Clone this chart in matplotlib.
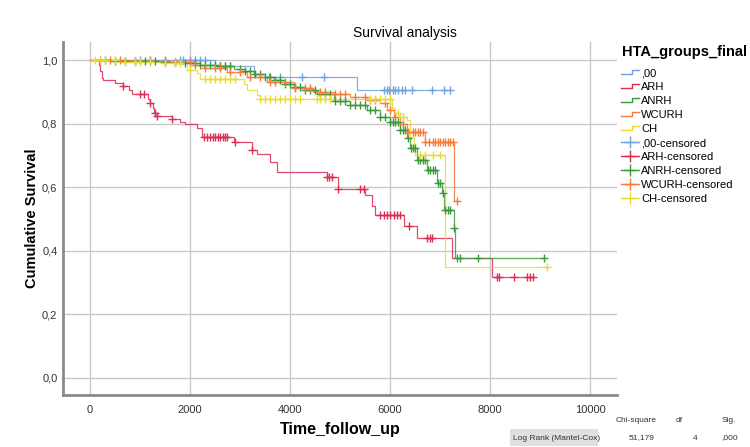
"""Kaplan-Meier style survival plot (SPSS look) for HTA groups."""

import numpy as np
import matplotlib
matplotlib.use("Agg")
import matplotlib.pyplot as plt
from matplotlib.lines import Line2D
from matplotlib.legend_handler import HandlerBase

plt.rcParams["font.family"] = ["Liberation Sans", "DejaVu Sans"]

# ---- data ------------------------------------------------------------------
groups = [",00", "ARH", "ANRH", "WCURH", "CH"]
colors = ["#6fa3e0", "#dc2d55", "#3a9a3a", "#f47c3c", "#e9dc30"]

blue_t = [0, 2500, 3270, 5330]
blue_s = [1.0, 0.981, 0.946, 0.906]
blue_end = 7200
blue_cens = [1000, 1200, 1500, 1800, 1850, 2000, 2100, 2200, 2300, 2600, 2700,
             2800, 3570, 3800, 4230, 4670, 5870, 5930, 5980, 6050, 6100, 6150,
             6230, 6300, 6430, 6830, 7070, 7200]

arh_t = [0, 180, 200, 230, 250, 500, 660, 780, 830, 1160, 1200, 1250, 1270,
         1330, 1630, 1800, 1900, 2130, 2230, 2870, 3230, 3330, 3600, 3730,
         4730, 4960, 5500, 5630, 5700, 6270, 6530, 7230, 8030]
arh_s = [1.0, 0.985, 0.965, 0.945, 0.937, 0.928, 0.918, 0.905, 0.895, 0.878,
         0.866, 0.85, 0.835, 0.824, 0.814, 0.806, 0.799, 0.785, 0.759, 0.743,
         0.717, 0.705, 0.68, 0.649, 0.631, 0.596, 0.575, 0.54, 0.513, 0.478,
         0.439, 0.376, 0.317]
arh_end = 8850
arh_cens = [660, 1000, 1070, 1200, 1290, 1330, 1630, 2270, 2330, 2400, 2450,
            2500, 2550, 2600, 2650, 2700, 2730, 2900, 3230, 4730, 4780, 4830,
            4960, 5400, 5480, 5800, 5870, 5930, 6000, 6070, 6130, 6200, 6370,
            6730, 6800, 6830, 8130, 8170, 8470, 8730, 8800, 8850]

anrh_t = [0, 400, 1000, 1400, 1730, 2200, 2600, 2870, 3100, 3270, 3500, 3670,
          3900, 4070, 4300, 4530, 4870, 5200, 5530, 5800, 6000, 6200, 6330,
          6400, 6530, 6730, 6930, 7030, 7070, 7270, 7300]
anrh_s = [1.0, 0.998, 0.996, 0.993, 0.99, 0.986, 0.98, 0.973, 0.965, 0.957,
          0.947, 0.937, 0.926, 0.916, 0.906, 0.895, 0.872, 0.858, 0.843, 0.822,
          0.806, 0.78, 0.754, 0.725, 0.686, 0.654, 0.612, 0.581, 0.528, 0.471,
          0.376]
anrh_end = 9080
anrh_cens = [300, 500, 700, 900, 1100, 1300, 1500, 1700, 1900, 2100, 2200,
             2300, 2400, 2500, 2600, 2700, 2800, 3000, 3100, 3200, 3300, 3400,
             3500, 3600, 3700, 3800, 3900, 4000, 4100, 4200, 4300, 4400, 4500,
             4600, 4700, 4800, 4900, 5000, 5100, 5200, 5300, 5400, 5500, 5600,
             5700, 5800, 5900, 6000, 6050, 6100, 6150, 6200, 6250, 6300, 6350,
             6420, 6450, 6500, 6560, 6600, 6650, 6700, 6750, 6800, 6850, 6900,
             6950, 7000, 7050, 7100, 7150, 7200, 7280, 7330, 7400, 7750, 9080]

wcurh_t = [0, 800, 1600, 2070, 2270, 2730, 3130, 3530, 4070, 4460, 4870, 5200,
           5530, 5800, 5930, 6070, 6200, 6330, 6700, 7280]
wcurh_s = [1.0, 0.998, 0.993, 0.984, 0.974, 0.964, 0.947, 0.932, 0.911, 0.9,
           0.895, 0.885, 0.874, 0.864, 0.843, 0.822, 0.8, 0.775, 0.743, 0.557]
wcurh_end = 7330
wcurh_cens = [200, 400, 600, 900, 1200, 1500, 1700, 2000, 2100, 2300, 2500,
              2600, 2800, 3000, 3200, 3400, 3600, 3700, 3900, 4100, 4300, 4400,
              4600, 4700, 4900, 5000, 5100, 5300, 5500, 5600, 5700, 5900, 6000,
              6100, 6250, 6350, 6450, 6500, 6550, 6600, 6650, 6700, 6780, 6850,
              6900, 6950, 7000, 7050, 7100, 7150, 7200, 7250, 7330]

ch_t = [0, 600, 1400, 1930, 2130, 2200, 3070, 3130, 3330, 3400, 6030, 6100,
        6200, 6330, 6400, 6480, 6500, 7100]
ch_s = [1.0, 0.995, 0.99, 0.969, 0.958, 0.942, 0.926, 0.906, 0.89, 0.879,
        0.848, 0.835, 0.822, 0.811, 0.759, 0.72, 0.701, 0.35]
ch_end = 9130
ch_cens = [100, 200, 300, 500, 700, 900, 1000, 1200, 1500, 1700, 1800, 2000,
           2300, 2400, 2500, 2600, 2700, 2800, 2900, 3400, 3500, 3600, 3700,
           3800, 3900, 4000, 4100, 4200, 4530, 4600, 4700, 4800, 5600, 5700,
           5800, 5900, 6000, 6150, 6250, 6600, 6700, 6850, 7000, 9130]

curves = [
    (blue_t, blue_s, blue_end, blue_cens),
    (arh_t, arh_s, arh_end, arh_cens),
    (anrh_t, anrh_s, anrh_end, anrh_cens),
    (wcurh_t, wcurh_s, wcurh_end, wcurh_cens),
    (ch_t, ch_s, ch_end, ch_cens),
]

x_ticks = [0, 2000, 4000, 6000, 8000, 10000]
y_ticks = [0.0, 0.2, 0.4, 0.6, 0.8, 1.0]

test_cols = ["Chi-square", "df", "Sig."]
test_name = "Log Rank (Mantel-Cox)"
test_vals = ["51,179", "4", ",000"]

NARROW = ["Liberation Sans Narrow", "Liberation Sans", "DejaVu Sans"]


class HandlerStep(HandlerBase):
    def create_artists(self, legend, orig, x0, y0, w, h, fontsize, trans):
        xs = [x0, x0 + w * 0.6, x0 + w * 0.6, x0 + w]
        ys = [y0 + h * 0.2, y0 + h * 0.2, y0 + h * 0.75, y0 + h * 0.75]
        ln = Line2D(xs, ys, color=orig.get_color(), lw=1.0, transform=trans)
        return [ln]


def step_value(t, s, x):
    i = np.searchsorted(t, x, side="right") - 1
    return np.asarray(s)[i]


def main():
    fig = plt.figure(figsize=(7.5, 4.47), dpi=100)
    ax = fig.add_axes([0.084, 0.116, 0.739, 0.79])

    for (t, s, end, cens), col in zip(curves, colors):
        tt = list(t) + [end]
        ss = list(s) + [s[-1]]
        ax.step(tt, ss, where="post", color=col, lw=0.9, alpha=0.85, zorder=3)
        cy = step_value(t, s, cens)
        ax.plot(cens, cy, ls="none", marker="+", ms=5.5, mew=1.0,
                color=col, zorder=4)

    ax.set_xlim(-540, 10540)
    ax.set_ylim(-0.054, 1.057)
    ax.set_xticks(x_ticks)
    ax.set_yticks(y_ticks)
    ax.set_xticklabels([str(v) for v in x_ticks])
    ax.set_yticklabels([f"{v:.1f}".replace(".", ",") for v in y_ticks])
    ax.tick_params(length=0, labelsize=8, colors="#333333")
    ax.tick_params(axis="x", pad=7)
    ax.tick_params(axis="y", pad=4)
    ax.grid(True, color="#c8c8c8", lw=1.0)
    ax.set_axisbelow(True)
    for side in ["top", "right"]:
        ax.spines[side].set_visible(False)
    for side in ["left", "bottom"]:
        ax.spines[side].set_color("#8a8a8a")
        ax.spines[side].set_linewidth(2)

    ax.set_xlabel("Time_follow_up", fontsize=11.5, fontweight="bold", labelpad=5)
    ax.set_ylabel("Cumulative Survival", fontsize=10.5, fontweight="bold",
                  labelpad=2)
    fig.text(405 / 750, 1 - 33 / 447, "Survival analysis", ha="center",
             va="center", fontsize=10)

    # legend: step icons for lines, plus marks for censored
    fig.text(622 / 750, 1 - 52 / 447, "HTA_groups_final", ha="left",
             va="center", fontsize=10.5, fontweight="bold")
    handles, labels = [], []
    for g, col in zip(groups, colors):
        handles.append(Line2D([], [], color=col))
        labels.append(g)
    for g, col in zip(groups, colors):
        handles.append(Line2D([], [], color=col, lw=1.0, marker="+",
                              ms=9, mew=1.0))
        labels.append(g + "-censored")
    hmap = {h: HandlerStep() for h in handles[:5]}
    fig.legend(handles, labels, handler_map=hmap, loc="upper left",
               bbox_to_anchor=(621 / 750, 1 - 68 / 447), frameon=False,
               fontsize=8, handlelength=1.6, handletextpad=0.2,
               labelspacing=0.36, borderaxespad=0, borderpad=0)

    # log rank table
    for lab, xc in zip(test_cols, [636, 679, 729]):
        fig.text(xc / 750, 1 - 421 / 447, lab, fontsize=6, family=NARROW,
                 ha="center", va="center", color="#333333")
    fig.patches.append(plt.Rectangle((510 / 750, 1 - 446 / 447), 88 / 750,
                                     17 / 447, transform=fig.transFigure,
                                     facecolor="#e0e0e0", edgecolor="none"))
    fig.text(513 / 750, 1 - 438 / 447, test_name, fontsize=6, family=NARROW,
             ha="left", va="center", color="#333333")
    for v, xr in zip(test_vals, [655, 697, 738]):
        fig.text(xr / 750, 1 - 438 / 447, v, fontsize=6, family=NARROW,
                 ha="right", va="center", color="#333333")

    fig.savefig("out.png", dpi=100)
    plt.close(fig)


if __name__ == "__main__":
    main()
